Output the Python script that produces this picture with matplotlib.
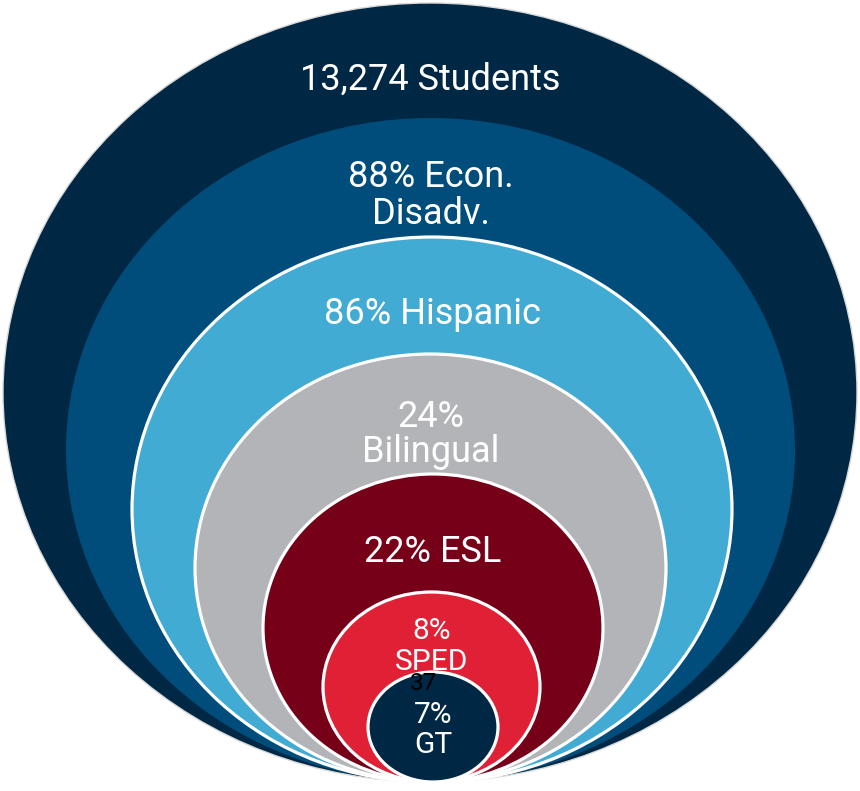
import matplotlib
matplotlib.use("Agg")
import matplotlib.pyplot as plt
from matplotlib.patches import Ellipse

# ---- data ----
labels = ["13,274 Students", "88% Econ.\nDisadv.", "86% Hispanic", "24%\nBilingual",
          "22% ESL", "8%\nSPED", "7%\nGT"]
percents = [100, 88, 86, 24, 22, 8, 7]
extra_label = "37"

# ---- layout (pixel space) ----
W, H = 860, 791
bottom_y = 782
cx = [430, 430.5, 432, 430.5, 433, 431.5, 433]
widths = [854, 729, 600, 471, 340, 217, 130]
tops = [3, 118, 237, 354, 474, 592, 672]
colors = ["#002845", "#004D7C", "#42ABD3", "#B3B4B8", "#770019", "#E02035", "#002845"]
edgecolors = ["#d8d8d8", "none", "white", "white", "white", "white", "white"]
edgewidths = [1.0, 0, 2.3, 2.3, 2.3, 2.3, 2.3]
# text baselines (one per line)
text_baselines = [[90], [187, 224], [324], [427, 462], [562], [639, 670], [723, 753]]
text_sizes = [26, 26, 26, 26, 26, 21.5, 21.5]
extra_pos = (423, 690)

fig = plt.figure(figsize=(W / 100, H / 100), dpi=100)
ax = fig.add_axes([0, 0, 1, 1])
ax.set_xlim(0, W)
ax.set_ylim(H, 0)
ax.axis("off")

for i in range(len(labels)):
    h = bottom_y - tops[i]
    cy = tops[i] + h / 2
    e = Ellipse((cx[i], cy), widths[i], h, facecolor=colors[i],
                edgecolor=edgecolors[i], linewidth=edgewidths[i], zorder=i + 1)
    ax.add_patch(e)

for i, lab in enumerate(labels):
    for line, by in zip(lab.split("\n"), text_baselines[i]):
        ax.text(cx[i], by, line, ha="center", va="baseline", color="white",
                fontsize=text_sizes[i], family="Roboto", zorder=20)

ax.text(extra_pos[0], extra_pos[1], extra_label, ha="center", va="baseline",
        color="black", fontsize=17.5, family="Roboto", zorder=21)

fig.savefig("out.png", dpi=100)
